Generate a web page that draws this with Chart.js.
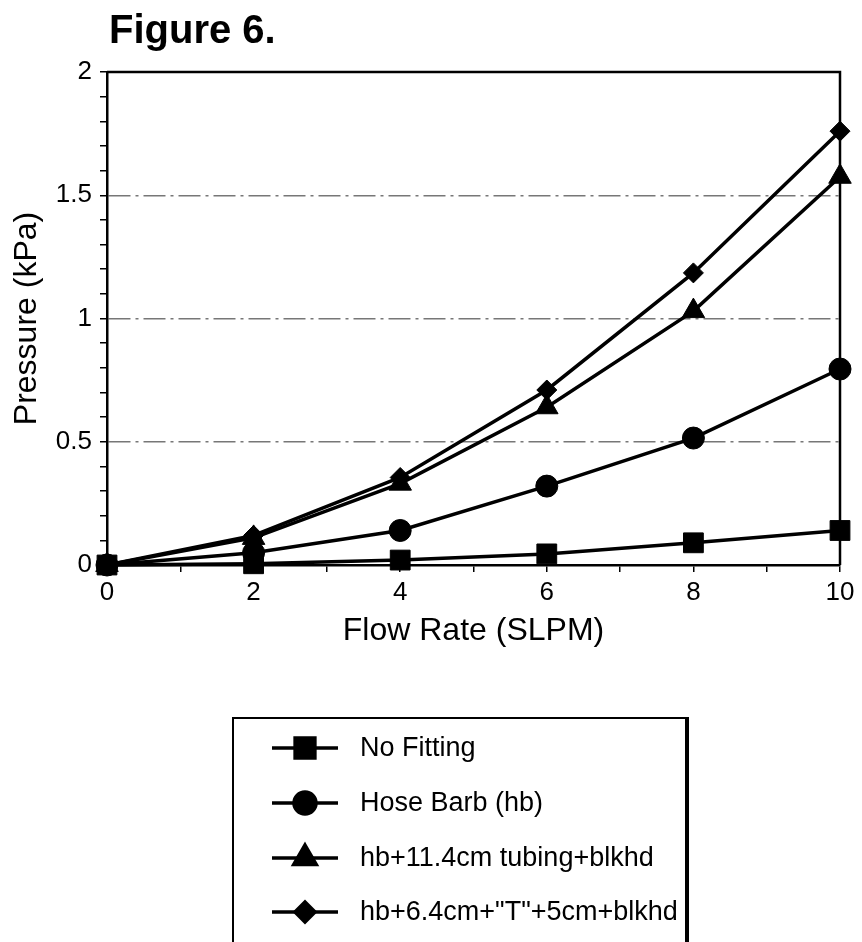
<!DOCTYPE html>
<html>
<head>
<meta charset="utf-8">
<script src="https://cdn.jsdelivr.net/npm/chart.js@4/dist/chart.umd.min.js"></script>
<style>
  body { margin: 0; background: #fff; }
  canvas { display: block; }
</style>
</head>
<body>
<canvas id="fig6" width="862" height="942"></canvas>
<script>
// dados
var flowRate = [0, 2, 4, 6, 8, 10];
var noFitting = [0, 0.005, 0.02, 0.045, 0.09, 0.14];
var hoseBarb = [0, 0.05, 0.14, 0.32, 0.515, 0.795];
var tubingBlkhd = [0, 0.11, 0.33, 0.64, 1.03, 1.575];
var teeBlkhd = [0, 0.12, 0.355, 0.71, 1.185, 1.76];

var seriesLabels = ['No Fitting', 'Hose Barb (hb)', 'hb+11.4cm tubing+blkhd', 'hb+6.4cm+"T"+5cm+blkhd'];
var yMajor = [0, 0.5, 1, 1.5, 2];

var font = 'Liberation Sans, Arial, Helvetica, sans-serif';

function toPoints(values){
  return values.map(function(v, i){ return {x: flowRate[i], y: v}; });
}

function serie(label, values, style, radius){
  return {
    label: label,
    data: toPoints(values),
    borderColor: '#000',
    backgroundColor: '#000',
    borderWidth: 3.5,
    pointStyle: style,
    pointRadius: radius,
    pointHoverRadius: radius,
    pointBorderWidth: 1,
    tension: 0,
    clip: false
  };
}

// titulo, moldura e legenda desenhados a mao
var extras = {
  id: 'extras',
  beforeDatasetsDraw: function(chart){
    var ctx = chart.ctx, a = chart.chartArea;
    ctx.save();
    ctx.strokeStyle = '#000';
    ctx.lineWidth = 2.5;
    ctx.beginPath();
    ctx.moveTo(a.left, a.top);
    ctx.lineTo(a.right, a.top);
    ctx.lineTo(a.right, a.bottom);
    ctx.stroke();
    ctx.restore();
  },
  afterDraw: function(chart){
    var ctx = chart.ctx;
    ctx.save();
    ctx.fillStyle = '#000';
    ctx.font = 'bold 40px ' + font;
    ctx.textBaseline = 'alphabetic';
    ctx.fillText('Figure 6.', 109, 43);

    // caixa da legenda
    ctx.strokeStyle = '#000';
    ctx.lineWidth = 2;
    ctx.beginPath();
    ctx.moveTo(233, 950);
    ctx.lineTo(233, 718);
    ctx.lineTo(687, 718);
    ctx.stroke();
    ctx.lineWidth = 4;
    ctx.beginPath();
    ctx.moveTo(687, 717);
    ctx.lineTo(687, 950);
    ctx.stroke();

    var rows = [748, 803, 858, 912];
    ctx.font = '27px ' + font;
    ctx.textBaseline = 'middle';
    chart.data.datasets.forEach(function(ds, i){
      var y = rows[i];
      ctx.lineWidth = 3.5;
      ctx.beginPath();
      ctx.moveTo(272, y);
      ctx.lineTo(338, y);
      ctx.stroke();
      Chart.helpers.drawPoint(ctx, {pointStyle: ds.pointStyle, radius: ds.pointRadius, borderWidth: 1}, 305, y);
      ctx.fill();
      ctx.fillText(ds.label, 360, y + 1);
    });
    ctx.restore();
  }
};

new Chart(document.getElementById('fig6'), {
  type: 'line',
  data: {
    datasets: [
      serie(seriesLabels[0], noFitting, 'rect', 14),
      serie(seriesLabels[1], hoseBarb, 'circle', 11),
      serie(seriesLabels[2], tubingBlkhd, 'triangle', 13),
      serie(seriesLabels[3], teeBlkhd, 'rectRot', 10)
    ]
  },
  options: {
    responsive: false,
    animation: false,
    layout: { padding: { left: 0, right: 22, top: 72, bottom: 942 - 565 - 85 } },
    plugins: {
      legend: { display: false },
      tooltip: { enabled: false }
    },
    scales: {
      x: {
        type: 'linear',
        min: 0,
        max: 10,
        afterFit: function(s){ s.height = 85; },
        ticks: {
          stepSize: 1,
          autoSkip: false,
          maxRotation: 0,
          padding: 5,
          color: '#000',
          font: { family: font, size: 26 },
          callback: function(v){ return v % 2 === 0 ? String(v) : ''; }
        },
        grid: { drawOnChartArea: false, color: '#000', tickLength: 7, lineWidth: 1.5 },
        border: { color: '#000', width: 2.5 },
        title: {
          display: true,
          text: 'Flow Rate (SLPM)',
          color: '#000',
          padding: 0,
          font: { family: font, size: 32 }
        }
      },
      y: {
        min: 0,
        max: 2,
        afterFit: function(s){ s.width = 107; },
        ticks: {
          stepSize: 0.1,
          autoSkip: false,
          padding: 8,
          color: '#000',
          font: { family: font, size: 26 },
          callback: function(v){
            var r = Math.round(v * 10) / 10;
            return yMajor.indexOf(r) >= 0 ? String(r) : '';
          }
        },
        grid: {
          color: function(c){
            var r = Math.round(c.tick.value * 10) / 10;
            return (r === 0.5 || r === 1 || r === 1.5) ? '#777' : 'rgba(0,0,0,0)';
          },
          tickColor: '#000',
          tickLength: 7,
          lineWidth: 1.5
        },
        border: { color: '#000', width: 2.5, dash: [22, 5, 3, 5] },
        title: {
          display: true,
          text: 'Pressure (kPa)',
          color: '#000',
          padding: 8,
          font: { family: font, size: 32 }
        }
      }
    }
  },
  plugins: [extras]
});
</script>
</body>
</html>
